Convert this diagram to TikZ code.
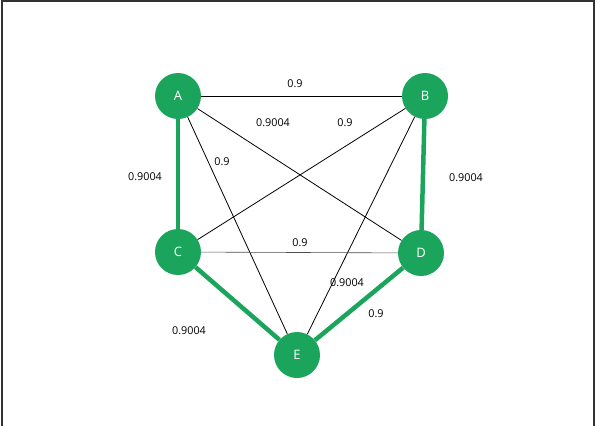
\documentclass[tikz,border=0pt]{standalone}
\usepackage{fontspec}
\setmainfont{Open Sans}
\usepackage{tikz}

\definecolor{nodegreen}{RGB}{27,165,92}

\tikzset{
    vertex/.style={circle,fill=nodegreen,draw=none,minimum size=46pt,inner sep=0pt,text=white,font=\fontsize{13}{15}\selectfont},
    thin edge/.style={draw=black,line width=0.8pt},
    tree edge/.style={draw=nodegreen,line width=4.5pt},
    weight/.style={inner sep=0pt,font=\fontsize{10.8}{12}\selectfont}
}

\begin{document}
\begin{tikzpicture}[x=1pt,y=-1pt]
    \useasboundingbox (0,0) rectangle (598,426);
    \draw[line width=1.6pt,black!80] (2,432) -- (2,1) -- (594,1) -- (594,432);

    \node[vertex] (A) at (178,96) {A};
    \node[vertex] (B) at (425,96) {B};
    \node[vertex] (C) at (178,252) {C};
    \node[vertex] (D) at (421,253) {D};
    \node[vertex] (E) at (297,355) {E};

    % edges outside the tree
    \draw[thin edge] (A) -- (B);
    \draw[thin edge] (A) -- (D);
    \draw[thin edge] (A) -- (E);
    \draw[thin edge] (B) -- (C);
    \draw[thin edge] (B) -- (E);
    \draw[thin edge,black!70,line width=0.6pt] (C) -- (D);

    % spanning tree
    \draw[tree edge] (A) -- (C);
    \draw[tree edge] (B) -- (D);
    \draw[tree edge] (C) -- (E);
    \draw[tree edge] (D) -- (E);

    % weights
    \node[weight] (wab) at (295,84) {0.9};
    \node[weight] (wad) at (273,123) {0.9004};
    \node[weight] (wbc) at (345,123) {0.9};
    \node[weight] (wae) at (222,162) {0.9};
    \node[weight] (wac) at (145,177) {0.9004};
    \node[weight] (wbd) at (466,178) {0.9004};
    \node[weight] (wcd) at (300,243) {0.9};
    \node[weight] (wbe) at (347,283) {0.9004};
    \node[weight] (wde) at (376,314) {0.9};
    \node[weight] (wce) at (189,331) {0.9004};
\end{tikzpicture}
\end{document}
